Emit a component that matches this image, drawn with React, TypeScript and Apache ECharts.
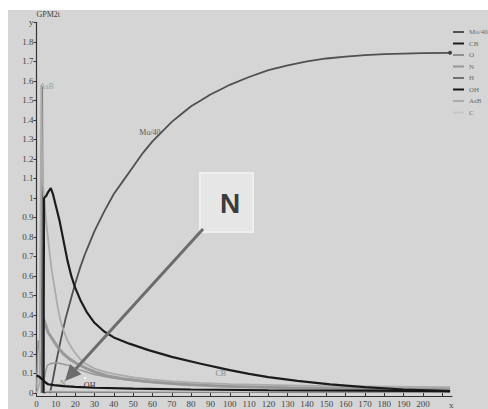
import React, { useEffect, useRef } from 'react';
import * as echarts from 'echarts';

// ---- data (time t, value) ----
const seriesNames = ['Mo/40', 'CB', 'O', 'N', 'H', 'OH', 'AsB', 'C'];
const seriesColors = ['#505050', '#1c1c1c', '#8e8e8e', '#969696', '#707070', '#161616', '#ababab', '#c6c6c6'];

const mo40 = [[7, 0], [8.5, 0.07], [10, 0.15], [12.5, 0.27], [15, 0.38], [17.5, 0.47], [20, 0.56], [22.5, 0.64], [25, 0.71], [27.5, 0.77], [30, 0.83], [35, 0.93], [40, 1.02], [45, 1.09], [50, 1.16], [55, 1.23], [60, 1.29], [65, 1.34], [70, 1.39], [75, 1.43], [80, 1.47], [85, 1.5], [90, 1.53], [95, 1.555], [100, 1.58], [110, 1.62], [120, 1.655], [130, 1.68], [140, 1.70], [150, 1.715], [160, 1.725], [170, 1.732], [180, 1.737], [190, 1.74], [200, 1.742], [214, 1.744]];
const cb = [[3.6, 0], [3.9, 1.0], [5, 1.01], [6, 1.03], [7.4, 1.05], [8.5, 1.02], [10, 0.96], [12, 0.88], [14, 0.78], [16, 0.68], [18, 0.6], [20, 0.54], [23, 0.47], [26, 0.415], [30, 0.36], [35, 0.315], [40, 0.285], [48, 0.253], [58, 0.22], [70, 0.185], [85, 0.15], [100, 0.117], [110, 0.098], [120, 0.081], [135, 0.062], [152, 0.044], [170, 0.03], [190, 0.018], [214, 0.01]];
const oData = [[3, 0], [3.3, 0.39], [4, 0.37], [6, 0.31], [8, 0.28], [11, 0.235], [14, 0.2], [17, 0.175], [21, 0.15], [26, 0.125], [31, 0.105], [37, 0.087], [45, 0.073], [51, 0.066], [60, 0.056], [75, 0.045], [100, 0.033], [130, 0.027], [170, 0.023], [214, 0.02]];
const nData = [[0, 0.02], [0.8, 0.27], [1.6, 0.22], [2.6, 0.1], [3.5, 0.05], [4.5, 0.1], [5.5, 0.14], [7, 0.15], [10, 0.155], [13, 0.15], [17, 0.14], [22, 0.12], [30, 0.095], [40, 0.075], [55, 0.058], [80, 0.042], [110, 0.032], [150, 0.024], [214, 0.016]];
const hData = [[2.6, 0], [3, 1.57], [3.4, 0.6], [3.8, 0], [6, 0.006], [214, 0.004]];
const ohData = [[0, 0.09], [1.5, 0.083], [3, 0.07], [4.5, 0.055], [6, 0.045], [9, 0.04], [14, 0.035], [20, 0.031], [30, 0.027], [50, 0.022], [80, 0.018], [120, 0.014], [170, 0.012], [214, 0.01]];
const asbData = [[0, 0], [1.6, 0.05], [2.5, 1.58], [3.0, 1.12], [4, 0.98], [5, 0.88], [6, 0.79], [7, 0.7], [8, 0.62], [9, 0.56], [10, 0.5], [11, 0.44], [12, 0.39], [13, 0.35], [14, 0.32], [16, 0.27], [18, 0.235], [20, 0.205], [22.5, 0.175], [25, 0.152], [30, 0.125], [35, 0.11], [40, 0.098], [50, 0.08], [60, 0.068], [70, 0.06], [85, 0.052], [100, 0.045], [150, 0.035], [214, 0.03]];
const cData = [[3, 0], [4, 0.01], [214, 0.005]];
const allData = [mo40, cb, oData, nData, hData, ohData, asbData, cData];
const lineWidths = [1.8, 2.2, 3, 1.4, 1.5, 2.2, 1.8, 1];

// in-chart series labels [name, t, value, colour]
const curveLabels: [string, number, number, string][] = [
  ['Mo/40', 58.7, 1.337, '#555555'],
  ['CB', 95.4, 0.1, '#8a8a8a'],
  ['N', 13.7, 0.05, '#858585'],
  ['OH', 27.5, 0.04, '#333333'],
  ['AsB', 5.3, 1.57, '#a0a0a0'],
];

const xMin = 0, xMax = 215, xStep = 10, xLastLabel = 200;
const yMin = 0, yMax = 1.9, yStep = 0.1;

export default function App() {
  const ref = useRef<HTMLDivElement>(null);
  useEffect(() => {
    const chart = echarts.init(ref.current!, null, { renderer: 'svg' });
    const serif = 'Liberation Serif';
    const series: any[] = seriesNames.map((name, i) => {
      const marks: any[] = curveLabels.filter((l) => l[0] === name).map((l) => ({
        coord: [l[1], l[2]],
        label: { show: true, formatter: l[0], position: 'inside', color: l[3], fontSize: 8, fontFamily: serif },
      }));
      if (name === 'Mo/40') {
        marks.push({
          coord: mo40[mo40.length - 1],
          symbol: 'circle',
          symbolSize: 4,
          itemStyle: { color: '#404040' },
          label: { show: false },
        });
      }
      if (name === 'OH') {
        marks.push({
          coord: [25.2, 0.076],
          symbol: 'emptyCircle',
          symbolSize: 4,
          itemStyle: { color: '#d5d5d5', borderColor: '#888', borderWidth: 1 },
          label: { show: false },
        });
      }
      const s: any = {
        name,
        type: 'line',
        data: allData[i],
        showSymbol: false,
        symbol: 'none',
        smooth: false,
        color: seriesColors[i],
        lineStyle: { color: seriesColors[i], width: lineWidths[i], opacity: name === 'O' ? 0.85 : 1 },
        z: name === 'CB' || name === 'OH' ? 5 : 3,
      };
      if (marks.length) {
        s.markPoint = {
          symbol: 'circle',
          symbolSize: 1,
          itemStyle: { color: 'rgba(0,0,0,0)' },
          data: marks,
        };
      }
      return s;
    });

    chart.setOption({
      animation: false,
      backgroundColor: '#d5d5d5',
      grid: { left: 28.5, right: 36, top: 9, bottom: 15, containLabel: false },
      legend: {
        orient: 'vertical',
        left: 440,
        top: 12.5,
        itemWidth: 11,
        itemHeight: 2,
        itemGap: 2.5,
        icon: 'rect',
        data: seriesNames,
        textStyle: { fontSize: 7, fontFamily: serif, color: '#6a6a6a', lineHeight: 9 },
      },
      xAxis: {
        type: 'value',
        min: xMin,
        max: xMax,
        interval: xStep,
        offset: 3,
        name: 'x',
        nameLocation: 'end',
        nameGap: -3,
        nameTextStyle: { fontSize: 9, fontFamily: serif, color: '#444', verticalAlign: 'top', padding: [4, 0, 0, 0] },
        axisLine: { onZero: false, lineStyle: { color: '#333', width: 1.2 } },
        axisTick: { inside: true, length: 3, lineStyle: { color: '#333' } },
        axisLabel: {
          fontSize: 9,
          fontFamily: serif,
          color: '#444',
          margin: 3,
          showMaxLabel: false,
          formatter: (v: number) => (v > xLastLabel ? '' : String(v)),
        },
        splitLine: { show: false },
      },
      yAxis: {
        type: 'value',
        min: yMin,
        max: yMax,
        interval: yStep,
        name: 'GPM2t',
        nameLocation: 'end',
        nameGap: 1,
        nameTextStyle: { fontSize: 8, fontFamily: serif, color: '#444', align: 'left', padding: [0, 0, 0, 0] },
        axisLine: { show: true, lineStyle: { color: '#333', width: 1.2 } },
        axisTick: { show: true, length: 3, lineStyle: { color: '#333' } },
        axisLabel: {
          fontSize: 9,
          fontFamily: serif,
          color: '#444',
          margin: 3,
          formatter: (v: number) => (Math.abs(v - 1.9) < 1e-6 ? 'y' : String(+v.toFixed(1))),
        },
        splitLine: { show: false },
      },
      series,
      graphic: [
        {
          type: 'rect',
          z: 100,
          shape: { x: 192, y: 163, width: 53, height: 59 },
          style: { fill: '#e6e6e6', stroke: '#efefef', lineWidth: 2 },
        },
        {
          type: 'text',
          z: 101,
          x: 222,
          y: 193,
          style: {
            text: 'N',
            fill: '#3c3c3c',
            font: 'bold 28px "Liberation Sans", Arial, sans-serif',
            align: 'center',
            verticalAlign: 'middle',
          },
        },
        {
          type: 'line',
          z: 100,
          shape: { x1: 195, y1: 219, x2: 67.7, y2: 359.1 },
          style: { stroke: '#6c6c6c', lineWidth: 3 },
        },
        {
          type: 'polygon',
          z: 100,
          shape: { points: [[57, 371], [73.4, 364.2], [62.0, 353.9]] },
          style: { fill: '#6c6c6c' },
        },
      ],
    });
    return () => chart.dispose();
  }, []);
  return (
    <div
      ref={ref}
      style={{ position: 'fixed', left: 8, top: 10, width: 480, height: 399, background: '#d5d5d5' }}
    />
  );
}
